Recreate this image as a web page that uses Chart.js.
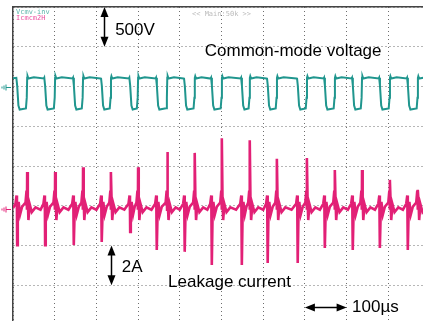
<!DOCTYPE html>
<html>
<head>
<meta charset="utf-8">
<script src="https://cdn.jsdelivr.net/npm/chart.js@4.4.0/dist/chart.umd.min.js"></script>
<style>
  html, body { margin: 0; padding: 0; background: #fff; overflow: hidden; }
  #wrap { position: absolute; left: 0; top: 0; width: 440px; height: 330px; }
</style>
</head>
<body>
<div id="wrap"><canvas id="scope"></canvas></div>
<script>
// time in microseconds (100 us / div), amplitude in screen divisions
const xDivs = [0, 100, 200, 300, 400, 500, 600, 700, 800, 900, 1000];
const yDivs = [-4, -3, -2, -1, 0, 1, 2, 3, 4];

// common-mode voltage trace (500 V/div)
const cmvTrace = [
  [0,2.21],
  [8,2.22],[10,2.02],[13,1.52],[16,1.42],[31,1.45],[33,1.72],[34,2.22],[35,2.26],[37,2.2],[50,2.23],[74,2.2],
  [75,2.22],[77,2.02],[80,1.52],[83,1.42],[98,1.45],[100,1.72],[101,2.22],[102,2.26],[104,2.2],[117,2.23],[143,2.2],
  [144,2.22],[146,2.02],[149,1.52],[152,1.42],[165,1.45],[167,1.72],[168,2.22],[169,2.26],[171,2.2],[184,2.23],[210,2.2],
  [211,2.22],[213,2.02],[216,1.52],[219,1.42],[232,1.45],[234,1.72],[235,2.22],[236,2.26],[238,2.2],[251,2.23],[278,2.2],
  [279,2.22],[281,2.02],[284,1.52],[287,1.42],[297,1.45],[299,1.72],[300,2.22],[301,2.26],[303,2.2],[316,2.23],[342,2.2],
  [343,2.22],[345,2.02],[348,1.52],[351,1.42],[367,1.45],[369,1.72],[370,2.22],[371,2.26],[373,2.2],[386,2.23],[409,2.2],
  [410,2.22],[412,2.02],[415,1.52],[418,1.42],[433,1.45],[435,1.72],[436,2.22],[437,2.26],[439,2.2],[452,2.23],[474,2.2],
  [475,2.22],[477,2.02],[480,1.52],[483,1.42],[498,1.45],[500,1.72],[501,2.22],[502,2.26],[504,2.2],[517,2.23],[546,2.2],
  [547,2.22],[549,2.02],[552,1.52],[555,1.42],[565,1.45],[567,1.72],[568,2.22],[569,2.26],[571,2.2],[584,2.23],[608,2.2],
  [609,2.22],[611,2.02],[614,1.52],[617,1.42],[630,1.45],[632,1.72],[633,2.22],[634,2.26],[636,2.2],[649,2.23],[680,2.2],
  [681,2.22],[683,2.02],[686,1.52],[689,1.42],[702,1.45],[704,1.72],[705,2.22],[706,2.26],[708,2.2],[721,2.23],[745,2.2],
  [746,2.22],[748,2.02],[751,1.52],[754,1.42],[769,1.45],[771,1.72],[772,2.22],[773,2.26],[775,2.2],[788,2.23],[812,2.2],
  [813,2.22],[815,2.02],[818,1.52],[821,1.42],[834,1.45],[836,1.72],[837,2.22],[838,2.26],[840,2.2],[853,2.23],[877,2.2],
  [878,2.22],[880,2.02],[883,1.52],[886,1.42],[901,1.45],[903,1.72],[904,2.22],[905,2.26],[907,2.2],[920,2.23],[944,2.2],
  [945,2.22],[947,2.02],[950,1.52],[953,1.42],[968,1.45],[970,1.72],[971,2.22],[972,2.26],[974,2.2],[990,2.23],[1000,2.21]
];

// leakage current trace (2 A/div)
const leakTrace = [
  [0,-1.06],[6,-0.95],[8.5,-0.74],[9.5,-1.12],[10,-1.99],[11.5,-1.28],[13.5,-0.9],[17,-1.22],[22,-1.02],[30,-0.92],[32.5,-0.62],[33.5,-1.1],[34,-0.15],[35.5,-0.88],[37,-1.36],[40,-0.96],[45,-1.16],[54,-1.04],[66,-1.1],
  [73,-0.95],[75.5,-0.74],[76.5,-1.12],[77,-1.99],[78.5,-1.28],[80.5,-0.9],[84,-1.22],[89,-1.02],[97,-0.92],[99.5,-0.62],[100.5,-1.1],[101,-0.15],[102.5,-0.88],[104,-1.36],[107,-0.96],[112,-1.16],[121,-1.04],[133,-1.1],
  [142,-0.95],[144.5,-0.74],[145.5,-1.12],[146,-1.99],[147.5,-1.28],[149.5,-0.9],[153,-1.22],[158,-1.02],[164,-0.92],[166.5,-0.62],[167.5,-1.1],[168,-0.03],[169.5,-0.88],[171,-1.36],[174,-0.96],[179,-1.16],[188,-1.04],[200,-1.1],
  [209,-0.95],[211.5,-0.74],[212.5,-1.12],[213,-1.91],[214.5,-1.28],[216.5,-0.9],[220,-1.22],[225,-1.02],[231,-0.92],[233.5,-0.62],[234.5,-1.1],[235,-0.15],[236.5,-0.88],[238,-1.36],[241,-0.96],[246,-1.16],[255,-1.04],[267,-1.1],
  [277,-0.95],[279.5,-0.74],[280.5,-1.12],[281,-1.66],[282.5,-1.28],[284.5,-0.9],[288,-1.22],[292,-1.02],[296,-0.92],[298.5,-0.62],[299.5,-1.1],[300,-0.03],[301.5,-0.88],[303,-1.36],[306,-0.96],[311,-1.16],[320,-1.04],[332,-1.1],
  [341,-0.95],[343.5,-0.74],[344.5,-1.12],[345,-2.11],[346.5,-1.28],[348.5,-0.9],[352,-1.22],[357,-1.02],[366,-0.92],[368.5,-0.62],[369.5,-1.1],[370,0.35],[371.5,-0.88],[373,-1.36],[376,-0.96],[381,-1.16],[390,-1.04],[400,-1.1],
  [408,-0.95],[410.5,-0.74],[411.5,-1.12],[412,-2.16],[413.5,-1.28],[415.5,-0.9],[419,-1.22],[424,-1.02],[432,-0.92],[434.5,-0.62],[435.5,-1.1],[436,0.33],[437.5,-0.88],[439,-1.36],[442,-0.96],[447,-1.16],[456,-1.04],[466,-1.1],
  [473,-0.95],[475.5,-0.74],[476.5,-1.12],[477,-2.49],[478.5,-1.28],[480.5,-0.9],[484,-1.22],[489,-1.02],[497,-0.92],[499.5,-0.62],[500.5,-1.1],[501,0.70],[502.5,-0.88],[504,-1.36],[507,-0.96],[512,-1.16],[521,-1.04],[535,-1.1],
  [545,-0.95],[547.5,-0.74],[548.5,-1.12],[549,-2.49],[550.5,-1.28],[552.5,-0.9],[556,-1.22],[560,-1.02],[564,-0.92],[566.5,-0.62],[567.5,-1.1],[568,0.65],[569.5,-0.88],[571,-1.36],[574,-0.96],[579,-1.16],[588,-1.04],[600,-1.1],
  [607,-0.95],[609.5,-0.74],[610.5,-1.12],[611,-2.44],[612.5,-1.28],[614.5,-0.9],[618,-1.22],[623,-1.02],[629,-0.92],[631.5,-0.62],[632.5,-1.1],[633,0.18],[634.5,-0.88],[636,-1.36],[639,-0.96],[644,-1.16],[653,-1.04],[668,-1.1],
  [679,-0.95],[681.5,-0.74],[682.5,-1.12],[683,-2.44],[684.5,-1.28],[686.5,-0.9],[690,-1.22],[695,-1.02],[701,-0.92],[703.5,-0.62],[704.5,-1.1],[705,0.20],[706.5,-0.88],[708,-1.36],[711,-0.96],[716,-1.16],[725,-1.04],[736,-1.1],
  [744,-0.95],[746.5,-0.74],[747.5,-1.12],[748,-2.06],[749.5,-1.28],[751.5,-0.9],[755,-1.22],[760,-1.02],[768,-0.92],[770.5,-0.62],[771.5,-1.1],[772,-0.10],[773.5,-0.88],[775,-1.36],[778,-0.96],[783,-1.16],[792,-1.04],[803,-1.1],
  [811,-0.95],[813.5,-0.74],[814.5,-1.12],[815,-2.11],[816.5,-1.28],[818.5,-0.9],[822,-1.22],[827,-1.02],[833,-0.92],[835.5,-0.62],[836.5,-1.1],[837,-0.10],[838.5,-0.88],[840,-1.36],[843,-0.96],[848,-1.16],[857,-1.04],[868,-1.1],
  [876,-0.95],[878.5,-0.74],[879.5,-1.12],[880,-2.06],[881.5,-1.28],[883.5,-0.9],[887,-1.22],[892,-1.02],[900,-0.92],[902.5,-0.62],[903.5,-1.1],[904,-0.35],[905.5,-0.88],[907,-1.36],[910,-0.96],[915,-1.16],[924,-1.04],[935,-1.1],
  [943,-0.95],[945.5,-0.74],[946.5,-1.12],[947,-2.11],[948.5,-1.28],[950.5,-0.9],[954,-1.22],[959,-1.02],[967,-0.92],[969.5,-0.62],[970.5,-1.1],[971,-0.60],[972.5,-0.88],[974,-1.36],[977,-0.96],[982,-1.16],[991,-1.04],[1000,-1.08]
];

// ground reference levels of the two channels (div)
const cmvGround = 2.0;
const leakGround = -1.08;

const TEAL = 'rgb(32, 150, 142)';
const PINK = 'rgb(226, 32, 118)';

function toXY(arr) {
    return arr.map(p => ({ x: p[0], y: p[1] }));
}

// annotations, arrows, channel labels
const scopeMarks = {
    id: 'scopeMarks',
    afterDraw(chart) {
        const c = chart.ctx;
        const xs = chart.scales.x;
        const ys = chart.scales.y;
        const px = v => xs.getPixelForValue(v);
        const py = v => ys.getPixelForValue(v);

        c.save();
        c.fillStyle = '#000';
        c.font = '17px "Liberation Sans", Arial, sans-serif';
        c.textBaseline = 'alphabetic';
        c.fillText('500V', px(245), py(3.30));
        c.fillText('Common-mode voltage', px(460), py(2.77));
        c.fillText('2A', px(261), py(-2.67));
        c.fillText('Leakage current', px(372), py(-3.04));
        c.fillText('100\u00b5s', px(813), py(-3.67));

        // double arrows
        function head(x, y, dx, dy) {
            const L = 10, W = 4;
            c.beginPath();
            c.moveTo(x, y);
            c.lineTo(x - dx * L - dy * W, y - dy * L - dx * W);
            c.lineTo(x - dx * L + dy * W, y - dy * L + dx * W);
            c.closePath();
            c.fill();
        }
        function vArrow(xv, y1, y2) {
            const x = Math.round(px(xv)) + 0.5;
            const a = py(y1), b = py(y2);
            c.strokeStyle = '#000';
            c.lineWidth = 1.5;
            c.beginPath();
            c.moveTo(x, a + 6);
            c.lineTo(x, b - 6);
            c.stroke();
            head(x, a, 0, -1);
            head(x, b, 0, 1);
        }
        function hArrow(x1, x2, yv) {
            const y = Math.round(py(yv)) + 0.5;
            const a = px(x1), b = px(x2);
            c.strokeStyle = '#000';
            c.lineWidth = 1.5;
            c.beginPath();
            c.moveTo(a + 6, y);
            c.lineTo(b - 6, y);
            c.stroke();
            head(a, y, -1, 0);
            head(b, y, 1, 0);
        }
        vArrow(218, 4, 3);
        vArrow(235, -2, -3);
        hArrow(700, 800, -3.55);

        // channel names and timebase label
        c.font = '7px "DejaVu Sans Mono", monospace';
        c.fillStyle = 'rgb(90, 180, 170)';
        c.fillText('Vcmv-inv', chart.chartArea.left + 3, chart.chartArea.top + 7);
        c.fillStyle = 'rgb(236, 80, 160)';
        c.fillText('Icmcm2H', chart.chartArea.left + 3, chart.chartArea.top + 13);
        c.fillStyle = '#bbb';
        c.textAlign = 'center';
        c.fillText('<< Main:50k >>', px(500), chart.chartArea.top + 9);

        // ground markers left of the frame
        function ground(yv, col) {
            const y = Math.round(py(yv)) + 0.5;
            const x0 = chart.chartArea.left;
            c.strokeStyle = col;
            c.lineWidth = 1;
            c.beginPath();
            c.moveTo(x0 - 7, y); c.lineTo(x0 - 2, y);
            c.moveTo(x0 - 7, y - 3); c.lineTo(x0 - 7, y + 3);
            c.moveTo(x0 - 9, y - 2); c.lineTo(x0 - 9, y + 2);
            c.moveTo(x0 - 11, y - 1); c.lineTo(x0 - 11, y + 1);
            c.stroke();
        }
        ground(cmvGround, TEAL);
        ground(leakGround, PINK);
        c.restore();
    }
};

const ctx = document.getElementById('scope').getContext('2d');

new Chart(ctx, {
    type: 'scatter',
    data: {
        datasets: [
            {
                label: 'Vcmv-inv',
                data: toXY(cmvTrace),
                showLine: true,
                borderColor: TEAL,
                borderWidth: 2,
                pointRadius: 0,
                tension: 0
            },
            {
                label: 'Icmcm2H',
                data: toXY(leakTrace),
                showLine: true,
                borderColor: PINK,
                borderWidth: 2.6,
                pointRadius: 0,
                tension: 0
            }
        ]
    },
    options: {
        responsive: true,
        maintainAspectRatio: false,
        animation: false,
        layout: { padding: { left: 13, top: 7, right: 10, bottom: 5 } },
        plugins: {
            legend: { display: false },
            tooltip: { enabled: false }
        },
        scales: {
            x: {
                type: 'linear',
                min: xDivs[0],
                max: xDivs[xDivs.length - 1],
                afterBuildTicks: s => { s.ticks = xDivs.map(v => ({ value: v })); },
                afterFit: s => { s.height = 0; },
                ticks: { display: false },
                grid: { color: '#6e6e6e', lineWidth: 1, drawTicks: false },
                border: { display: false, dash: [1, 3] }
            },
            xTop: {
                type: 'linear',
                position: 'top',
                min: 0,
                max: 1000,
                afterFit: s => { s.height = 0; },
                ticks: { display: false },
                grid: { display: false, drawTicks: false },
                border: { display: true, color: '#444', width: 1.5 }
            },
            y: {
                type: 'linear',
                min: yDivs[0],
                max: yDivs[yDivs.length - 1],
                afterBuildTicks: s => { s.ticks = yDivs.map(v => ({ value: v })); },
                afterFit: s => { s.width = 0; },
                ticks: { display: false },
                grid: { color: '#6e6e6e', lineWidth: 1, drawTicks: false },
                border: { display: true, color: '#444', width: 1.5, dash: [1, 3] }
            }
        }
    },
    plugins: [scopeMarks]
});
</script>
</body>
</html>
